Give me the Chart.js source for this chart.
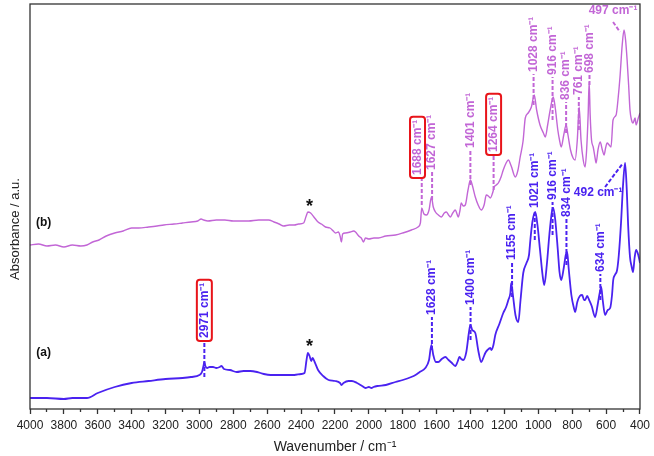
<!DOCTYPE html>
<html>
<head>
<meta charset="utf-8">
<script src="https://cdn.jsdelivr.net/npm/chart.js@4.4.1/dist/chart.umd.min.js"></script>
<style>
  html, body { margin: 0; padding: 0; background: #fff; }
</style>
</head>
<body>
<canvas id="ftir" width="654" height="456"></canvas>
<script>
// spectrum (a) - bottom trace
const wavenumbersA = [
  4000, 3900, 3800, 3750, 3700, 3664, 3600, 3500, 3400, 3300, 3200, 3100, 3050, 3000,
  2985, 2975, 2971, 2965, 2955, 2940, 2920, 2900, 2880, 2870, 2855, 2820, 2780, 2740,
  2700, 2660, 2620, 2580, 2500, 2440, 2400, 2380, 2368, 2360, 2350, 2340, 2332, 2320,
  2300, 2270, 2238, 2200, 2170, 2162, 2150, 2120, 2100, 2070, 2040, 2020, 2000, 1985,
  1973, 1950, 1900, 1843, 1800, 1750, 1725, 1700, 1667, 1645, 1631, 1620, 1605, 1590,
  1570, 1549, 1530, 1510, 1490, 1475, 1466, 1455, 1443, 1425, 1410, 1401, 1390, 1372,
  1355, 1337, 1325, 1313, 1300, 1283, 1277, 1265, 1254, 1230, 1207, 1190, 1177, 1165,
  1160, 1150, 1135, 1118, 1105, 1089, 1070, 1055, 1047, 1035, 1018, 1005, 990, 975,
  965, 950, 935, 920, 912, 900, 885, 875, 865, 850, 838, 830, 820, 805, 790, 783, 770,
  755, 741, 730, 724, 712, 700, 685, 665, 650, 640, 629, 620, 606, 590, 576, 565, 558,
  548, 535, 525, 512, 500, 488, 478, 470, 459, 450, 441, 432, 423, 410, 400
];
const absorbanceA = [
  11, 11, 10, 11, 11, 11, 16, 22, 26, 28, 30, 31, 32, 34,
  37, 44, 47, 43, 41, 42, 42, 41, 42, 43, 40, 39, 37, 38,
  38, 37, 35, 34, 34, 34, 35, 36, 49, 56, 53, 48, 51, 47,
  39, 33, 29, 28, 26, 24, 26, 28, 28, 26, 23, 21, 22, 21,
  22, 23, 24, 27, 29, 32, 34, 37, 41, 49, 64, 54, 47, 47,
  50, 52, 49, 46, 43, 48, 52, 50, 49, 57, 76, 84, 79, 76,
  59, 47, 51, 56, 59, 61, 59, 64, 74, 85, 96, 102, 109, 116,
  126, 114, 94, 87, 109, 136, 146, 154, 169, 187, 197, 184, 159, 134,
  124, 144, 174, 197, 201, 189, 159, 137, 129, 141, 154, 157, 139, 114, 101, 97, 107,
  113, 114, 109, 109, 113, 109, 103, 92, 104, 114, 122, 109, 94, 99, 101, 114, 129,
  134, 139, 154, 186, 224, 246, 219, 184, 152, 143, 137, 151, 159, 154, 146
];

// spectrum (b) - top trace
const wavenumbersB = [
  4000, 3950, 3900, 3850, 3800, 3750, 3700, 3664, 3630, 3593, 3550, 3500, 3450, 3400,
  3358, 3300, 3250, 3210, 3150, 3100, 3050, 3010, 2990, 2975, 2950, 2900, 2850, 2800,
  2750, 2710, 2650, 2592, 2560, 2530, 2503, 2470, 2440, 2415, 2385, 2370, 2360, 2344,
  2320, 2300, 2280, 2256, 2230, 2210, 2197, 2180, 2170, 2162, 2155, 2138, 2110, 2090,
  2079, 2060, 2045, 2032, 2020, 2000, 1970, 1943, 1900, 1843, 1800, 1749, 1710, 1696,
  1688, 1675, 1660, 1645, 1631, 1620, 1607, 1590, 1572, 1555, 1543, 1530, 1519, 1505,
  1490, 1480, 1472, 1462, 1455, 1443, 1431, 1415, 1401, 1390, 1372, 1355, 1337, 1320,
  1307, 1295, 1283, 1270, 1260, 1248, 1236, 1220, 1207, 1190, 1177, 1160, 1136, 1120,
  1107, 1090, 1077, 1060, 1041, 1024, 1010, 990, 970, 959, 945, 930, 912, 900, 885,
  875, 865, 850, 836, 825, 810, 795, 783, 770, 759, 748, 735, 724, 715, 706, 700, 694,
  686, 676, 665, 659, 648, 635, 622, 612, 603, 594, 582, 571, 559, 541, 530, 518, 505,
  494, 485, 476, 467, 459, 450, 441, 429, 423, 410, 400
];
const absorbanceB = [
  164, 165, 163, 164, 162, 164, 163, 164, 167, 169, 173, 176, 178, 181,
  181, 182, 183, 184, 185, 186, 187, 188, 190, 189, 188, 189, 189, 188,
  188, 188, 189, 189, 187, 185, 183, 184, 184, 185, 186, 193, 197, 196,
  191, 187, 185, 182, 181, 178, 176, 177, 173, 167, 175, 176, 177, 178,
  177, 173, 171, 167, 171, 170, 171, 171, 173, 174, 176, 179, 182, 186,
  201, 195, 194, 199, 212, 202, 197, 194, 192, 196, 197, 194, 192, 196,
  199, 195, 192, 199, 206, 203, 204, 219, 229, 224, 212, 204, 199, 204,
  214, 213, 211, 216, 222, 224, 226, 232, 239, 246, 249, 243, 232, 239,
  252, 268, 291, 296, 302, 314, 299, 284, 276, 272, 284, 299, 312, 301, 279,
  269, 262, 274, 284, 274, 259, 251, 249, 269, 302, 269, 249, 242, 259, 294, 327, 294,
  269, 262, 251, 246, 259, 267, 259, 254, 261, 266, 264, 262, 289, 294, 309, 332, 364,
  379, 369, 349, 324, 299, 289, 286, 291, 284, 291, 296
];

// x axis tick values
const majorTicks = [4000, 3800, 3600, 3400, 3200, 3000, 2800, 2600, 2400, 2200, 2000,
  1800, 1600, 1400, 1200, 1000, 800, 600, 400];
const minorTicks = [3900, 3700, 3500, 3300, 3100, 2900, 2700, 2500, 2300, 2100, 1900,
  1700, 1500, 1300, 1100, 900, 700, 500];

// peak assignments: wavenumber, trace, leader from/to (absorbance units)
const peakLabels = [
  { wn: 2971, series: 'a', from: 32, to: 69, boxed: true },
  { wn: 1628, series: 'a', from: 59, to: 92 },
  { wn: 1400, series: 'a', from: 69, to: 102 },
  { wn: 1155, series: 'a', from: 112, to: 147 },
  { wn: 1021, series: 'a', from: 169, to: 199 },
  { wn: 916, series: 'a', from: 174, to: 207 },
  { wn: 834, series: 'a', from: 144, to: 190 },
  { wn: 634, series: 'a', from: 109, to: 135 },
  { wn: 1688, series: 'b', from: 204, to: 232, boxed: true, shift: 25 },
  { wn: 1627, series: 'b', from: 209, to: 237 },
  { wn: 1401, series: 'b', from: 224, to: 259 },
  { wn: 1264, series: 'b', from: 219, to: 255, boxed: true },
  { wn: 1028, series: 'b', from: 304, to: 335 },
  { wn: 916, series: 'b', from: 289, to: 332 },
  { wn: 836, series: 'b', from: 276, to: 307 },
  { wn: 761, series: 'b', from: 279, to: 312 },
  { wn: 698, series: 'b', from: 324, to: 334 }
];
// horizontal labels with slanted leaders
const sideLabels = [
  { text: '492', series: 'a', x: 647, y: 216, lx1: 606, ly1: 222, lx2: 500, ly2: 246 },
  { text: '497', series: 'b', x: 559, y: 398, lx1: 559, ly1: 387, lx2: 518, ly2: 377 }
];
const marks = [
  { text: '*', x: 2350, y: 66 },
  { text: '*', x: 2350, y: 206 },
  { text: '(a)', x: 3920, y: 56 },
  { text: '(b)', x: 3920, y: 186 }
];

const BLUE = '#4a22f0';
const PURPLE = '#c266d6';
const AXIS = '#333';
const FONT = 'Arial, "Liberation Sans", sans-serif';
const UNIT = ' cm\u207B\u00B9';

const annotations = {
  id: 'annotations',
  afterDatasetsDraw(chart) {
    const { ctx, scales: { x, y } } = chart;
    ctx.save();

    peakLabels.forEach((p) => {
      const col = p.series === 'a' ? BLUE : PURPLE;
      const px = x.getPixelForValue(p.wn);
      ctx.strokeStyle = col;
      ctx.lineWidth = 2;
      ctx.setLineDash([4, 2]);
      ctx.beginPath();
      ctx.moveTo(px, y.getPixelForValue(p.from));
      ctx.lineTo(px, y.getPixelForValue(p.to));
      ctx.stroke();
      ctx.setLineDash([]);

      // label sits on the leader, or slightly beside it when crowded
      const tx = p.shift ? x.getPixelForValue(p.wn + p.shift) : px;
      const text = p.wn + UNIT;
      ctx.save();
      ctx.translate(tx, y.getPixelForValue(p.to) - 2);
      ctx.rotate(-Math.PI / 2);
      ctx.font = 'bold 12px ' + FONT;
      ctx.textAlign = 'left';
      ctx.textBaseline = 'middle';
      ctx.fillStyle = col;
      ctx.fillText(text, 0, 0);
      if (p.boxed) {
        const w = ctx.measureText(text).width;
        ctx.strokeStyle = '#e8141a';
        ctx.lineWidth = 2;
        ctx.beginPath();
        ctx.roundRect(-3, -7.5, w + 6, 15, 3);
        ctx.stroke();
      }
      ctx.restore();
    });

    sideLabels.forEach((s) => {
      const col = s.series === 'a' ? BLUE : PURPLE;
      ctx.strokeStyle = col;
      ctx.lineWidth = 2;
      ctx.setLineDash([4, 2]);
      ctx.beginPath();
      ctx.moveTo(x.getPixelForValue(s.lx1), y.getPixelForValue(s.ly1));
      ctx.lineTo(x.getPixelForValue(s.lx2), y.getPixelForValue(s.ly2));
      ctx.stroke();
      ctx.setLineDash([]);
      ctx.font = 'bold 12px ' + FONT;
      ctx.textAlign = 'center';
      ctx.textBaseline = 'middle';
      ctx.fillStyle = col;
      ctx.fillText(s.text + UNIT, x.getPixelForValue(s.x), y.getPixelForValue(s.y));
    });

    marks.forEach((m) => {
      const star = m.text === '*';
      ctx.font = (star ? 'bold 18px ' : 'bold 12px ') + FONT;
      ctx.textAlign = 'center';
      ctx.textBaseline = 'middle';
      ctx.fillStyle = '#111';
      ctx.fillText(m.text, x.getPixelForValue(m.x), y.getPixelForValue(m.y) + (star ? 4 : 0));
    });

    ctx.restore();
  },
  afterDraw(chart) {
    const { ctx, chartArea: a } = chart;
    ctx.save();
    ctx.strokeStyle = AXIS;
    ctx.lineWidth = 1.3;
    ctx.strokeRect(a.left, a.top, a.right - a.left, a.bottom - a.top);
    // y axis title
    ctx.translate(15, 229);
    ctx.rotate(-Math.PI / 2);
    ctx.font = '13px ' + FONT;
    ctx.fillStyle = '#222';
    ctx.textAlign = 'center';
    ctx.textBaseline = 'middle';
    ctx.fillText('Absorbance / a.u.', 0, 0);
    ctx.restore();
  }
};

const toPoints = (xs, ys) => xs.map((w, i) => ({ x: w, y: ys[i] }));

new Chart(document.getElementById('ftir'), {
  type: 'line',
  data: {
    datasets: [
      {
        label: '(b)',
        data: toPoints(wavenumbersB, absorbanceB),
        borderColor: PURPLE,
        borderWidth: 1.4,
        pointRadius: 0,
        cubicInterpolationMode: 'monotone',
        fill: false
      },
      {
        label: '(a)',
        data: toPoints(wavenumbersA, absorbanceA),
        borderColor: BLUE,
        borderWidth: 1.8,
        pointRadius: 0,
        cubicInterpolationMode: 'monotone',
        fill: false
      }
    ]
  },
  options: {
    responsive: false,
    animation: false,
    devicePixelRatio: 1,
    layout: { padding: { top: 4, right: 12, bottom: 0, left: 0 } },
    plugins: {
      legend: { display: false },
      tooltip: { enabled: false }
    },
    scales: {
      x: {
        type: 'linear',
        position: 'bottom',
        reverse: true,
        min: 400,
        max: 4000,
        weight: 1,
        afterBuildTicks: (s) => { s.ticks = majorTicks.map((v) => ({ value: v })); },
        afterFit: (s) => { s.height = 47; },
        ticks: {
          autoSkip: false,
          maxRotation: 0,
          padding: 4,
          color: '#222',
          font: { family: FONT, size: 12 },
          callback: (v) => String(v)
        },
        grid: { drawOnChartArea: false, tickLength: 5, tickColor: AXIS, tickWidth: 1.3 },
        border: { display: false },
        title: {
          display: true,
          text: 'Wavenumber / cm\u207B\u00B9',
          color: '#222',
          font: { family: FONT, size: 14 },
          padding: { top: 0, bottom: 0 }
        }
      },
      xMinor: {
        type: 'linear',
        position: 'bottom',
        reverse: true,
        min: 400,
        max: 4000,
        weight: 0,
        afterBuildTicks: (s) => { s.ticks = minorTicks.map((v) => ({ value: v })); },
        afterFit: (s) => { s.height = 0; },
        ticks: { display: false },
        grid: { drawOnChartArea: false, tickLength: 3, tickColor: AXIS, tickWidth: 1.3 },
        border: { display: false }
      },
      y: {
        min: 0,
        max: 405,
        afterFit: (s) => { s.width = 30; },
        ticks: { display: false },
        grid: { display: false },
        border: { display: false }
      }
    }
  },
  plugins: [annotations]
});
</script>
</body>
</html>
